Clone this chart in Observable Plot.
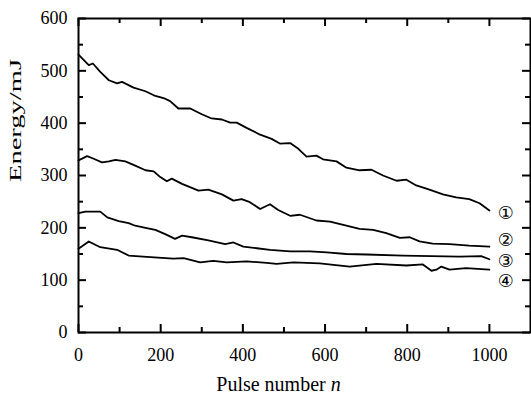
<!DOCTYPE html>
<html>
<head>
<meta charset="utf-8">
<script src="https://cdn.jsdelivr.net/npm/d3@7"></script>
<script src="https://cdn.jsdelivr.net/npm/@observablehq/plot@0.6"></script>
<style>
  html, body { margin: 0; padding: 0; background: #fff; }
</style>
</head>
<body>
<div id="chart"></div>
<script>
// Series 1
const x1 = [0,25,35,53,74,94,106,134,163,187,207,223,243,272,300,324,349,369,385,409,442,470,490,515,535,555,579,595,628,652,684,713,741,774,798,822,854,887,919,951,976,1000];
const y1 = [531,511,514,498,482,476,479,468,461,452,448,442,428,428,417,409,407,401,401,391,378,370,361,362,351,336,338,331,327,315,310,311,300,290,292,281,273,264,258,255,247,233];
// Series 2
const x2 = [0,21,37,57,74,90,114,138,163,183,199,215,227,252,292,316,349,377,397,417,442,466,486,515,539,579,612,652,684,717,749,782,806,830,862,903,951,1000];
const y2 = [329,337,332,325,327,330,327,319,310,308,297,289,294,284,271,273,264,252,255,249,236,245,234,223,225,214,212,204,198,196,190,181,182,174,170,169,166,164];
// Series 3
const x3 = [0,17,53,70,98,122,138,163,187,211,235,252,276,316,357,377,401,434,466,515,563,604,652,701,790,927,980,1000];
const y3 = [228,231,231,220,213,209,204,200,196,188,179,185,182,176,169,172,164,161,158,155,155,153,150,149,147,145,146,140];
// Series 4
const x4 = [0,25,53,94,122,175,231,256,296,328,361,409,458,482,523,587,660,725,798,838,859,871,883,903,943,1000];
const y4 = [160,174,163,158,147,144,141,142,134,137,134,136,133,131,134,132,126,131,128,130,118,120,126,120,123,120];

const seriesNames = ["①","②","③","④"];
const labelX = [1040,1040,1040,1040];
const labelY = [228,177,137,98];

const xMajor = [0,200,400,600,800,1000];
const xMinor = [100,300,500,700,900];
const yMajor = [0,100,200,300,400,500,600];
const yMinor = [50,150,250,350,450,550];

const xs = [x1,x2,x3,x4], ys = [y1,y2,y3,y4];
const rows = [];
xs.forEach((xa, i) => xa.forEach((x, j) => rows.push({series: seriesNames[i], x, y: ys[i][j]})));
const labels = seriesNames.map((s, i) => ({s, x: labelX[i], y: labelY[i]}));

const W = 531, H = 393, mT = 18, mB = 61, mL = 78, mR = 1;
const plotH = H - mT - mB, plotW = W - mL - mR;
const tk = {stroke: "black", strokeWidth: 2};

const chart = Plot.plot({
  width: W, height: H,
  marginTop: mT, marginBottom: mB, marginLeft: mL, marginRight: mR,
  style: {fontFamily: "'Liberation Serif', 'Times New Roman', serif", fontSize: "18px", color: "black", background: "white"},
  x: {domain: [0, 1100]},
  y: {domain: [0, 600]},
  marks: [
    Plot.line(rows, {x: "x", y: "y", z: "series", stroke: "black", strokeWidth: 1.8}),
    // inward ticks on all four sides
    Plot.ruleX(xMajor, {...tk, insetTop: plotH - 8}),
    Plot.ruleX(xMajor, {...tk, insetBottom: plotH - 8}),
    Plot.ruleX(xMinor, {...tk, insetTop: plotH - 5}),
    Plot.ruleX(xMinor, {...tk, insetBottom: plotH - 5}),
    Plot.ruleY(yMajor, {...tk, insetRight: plotW - 8}),
    Plot.ruleY(yMajor, {...tk, insetLeft: plotW - 8}),
    Plot.ruleY(yMinor, {...tk, insetRight: plotW - 5}),
    Plot.ruleY(yMinor, {...tk, insetLeft: plotW - 5}),
    Plot.axisX(xMajor, {anchor: "bottom", tickSize: 0, tickPadding: 16, fontSize: 18, label: null, tickFormat: d => String(d)}),
    Plot.axisY(yMajor, {anchor: "left", tickSize: 0, tickPadding: 11, fontSize: 18, label: null, tickFormat: d => String(d)}),
    Plot.frame({stroke: "black", strokeWidth: 2}),
    Plot.text(labels, {x: "x", y: "y", text: "s", fontSize: 18, fontFamily: "'DejaVu Sans', sans-serif", fill: "black"}),
    Plot.text(["Pulse number n"], {frameAnchor: "bottom", dx: -26, dy: 58, lineAnchor: "bottom", fontSize: 20, fill: "black"}),
    Plot.text(["Energy/mJ"], {frameAnchor: "left", dx: -63, dy: 6.5, rotate: -90, fontSize: 17, fill: "black"})
  ]
});

document.getElementById("chart").appendChild(chart);

// italic n in x label, stretched y label
chart.querySelectorAll("text").forEach(t => {
  if (t.textContent === "Pulse number n") {
    t.textContent = "Pulse number ";
    const ts = document.createElementNS("http://www.w3.org/2000/svg", "tspan");
    ts.setAttribute("font-style", "italic");
    ts.textContent = "n";
    t.appendChild(ts);
  } else if (t.textContent === "Energy/mJ") {
    t.setAttribute("textLength", "123");
    t.setAttribute("lengthAdjust", "spacingAndGlyphs");
  }
});
</script>
</body>
</html>
